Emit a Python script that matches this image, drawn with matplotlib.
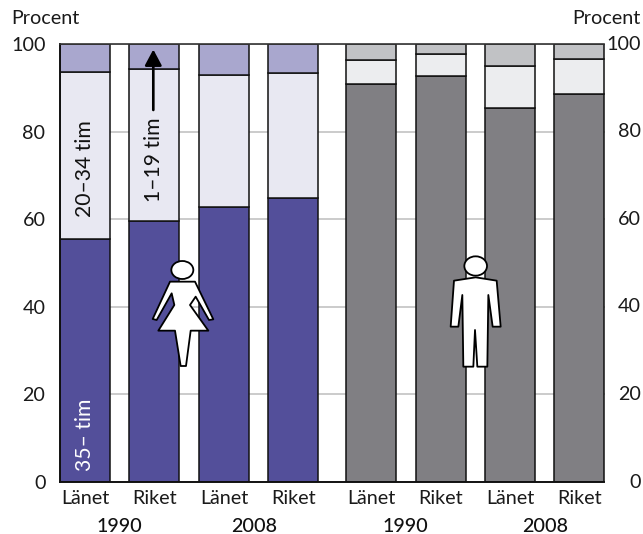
import matplotlib
matplotlib.use("Agg")
import matplotlib.pyplot as plt
from matplotlib.patches import Polygon, Ellipse, FancyArrowPatch
from matplotlib.transforms import Affine2D

plt.rcParams['font.family'] = ['Lato', 'DejaVu Sans']

# Data
places = ["Länet", "Riket", "Länet", "Riket", "Länet", "Riket", "Länet", "Riket"]
years = ["1990", "2008", "1990", "2008"]
full_time = [55.4, 59.6, 62.8, 64.8, 90.9, 92.6, 85.4, 88.6]      # 35- tim
mid_time = [38.3, 34.8, 30.2, 28.6, 5.4, 5.2, 9.6, 7.9]           # 20-34 tim
short_time = [6.3, 5.6, 7.0, 6.6, 3.7, 2.2, 5.0, 3.5]             # 1-19 tim
yticks = [0, 20, 40, 60, 80, 100]

# Layout
W, H = 643, 534
positions = [0, 1, 2, 3, 4.12, 5.12, 6.12, 7.12]
bar_w = 0.72
year_x = [0.5, 2.44, 4.62, 6.62]
dark = ["#534F9A"] * 4 + ["#807F83"] * 4
light = ["#E8E8F2"] * 4 + ["#ECEDEF"] * 4
mid = ["#A9A7CE"] * 4 + ["#C1C2C5"] * 4
FS = 14.2
FS_ROT = 15.2

fig = plt.figure(figsize=(W / 100, H / 100), dpi=100)
ax = fig.add_axes([60 / W, (H - 482) / H, 544.5 / W, 438 / H])
ax.set_xlim(-bar_w / 2, positions[-1] + bar_w / 2)
ax.set_ylim(0, 100)

ax.yaxis.grid(True, color="#BDBDBD", lw=1.1, zorder=0)
ax.set_axisbelow(True)
edge = dict(edgecolor="#111111", linewidth=1.1, zorder=2)
bottom2 = [a + b for a, b in zip(full_time, mid_time)]
ax.bar(positions, full_time, bar_w, color=dark, **edge)
ax.bar(positions, mid_time, bar_w, bottom=full_time, color=light, **edge)
ax.bar(positions, short_time, bar_w, bottom=bottom2, color=mid, **edge)

for s in ("left", "bottom"):
    ax.spines[s].set_linewidth(1.4)
    ax.spines[s].set_color("#111111")
ax.spines["top"].set_linewidth(1.2)
ax.spines["top"].set_color("#333333")
ax.spines["right"].set_visible(False)

ax.set_yticks(yticks)
ax.set_xticks(positions, places)
ax.tick_params(axis="both", length=0, labelsize=FS, colors="#1a1a1a")
ax.tick_params(axis="y", pad=10.5)
ax.tick_params(axis="x", pad=6)

ytrans = ax.get_yaxis_transform()
for v in yticks:
    ax.text(1 + 36.5 / 544.5, v, str(v), transform=ytrans, ha="right", va="center",
            fontsize=FS, color="#1a1a1a")

trans = ax.get_xaxis_transform()
for x, y in zip(year_x, years):
    ax.text(x, -45 / 438, y, transform=trans, ha="center", va="center",
            fontsize=FS, fontweight=500, color="#111111")

px = Affine2D().scale(1, -1).translate(0, H)  # reference pixel space, y down
fig.text(11, 19, "Procent", transform=px, ha="left", va="center", fontsize=FS, color="#1a1a1a")
fig.text(641, 19, "Procent", transform=px, ha="right", va="center", fontsize=FS, color="#1a1a1a")

ax.text(positions[0], 71.5, "20–34 tim", rotation=90, ha="center", va="center",
        fontsize=FS_ROT, color="#111111", zorder=4)
ax.text(positions[1], 73.5, "1–19 tim", rotation=90, ha="center", va="center",
        fontsize=FS_ROT, color="#111111", zorder=4)
ax.text(positions[0], 10.8, "35– tim", rotation=90, ha="center", va="center",
        fontsize=FS_ROT, color="white", zorder=4)
ax.add_patch(FancyArrowPatch((153.3, H - 110), (153.3, H - 49.5), transform=None,
                             arrowstyle="-|>,head_length=6,head_width=3.2", lw=1.9,
                             color="black", shrinkA=0, shrinkB=0, mutation_scale=1.6, zorder=5))


def icon(points, origin, head, radii):
    ox, oy = origin
    pts = [(ox + a / 3, oy + b / 3) for a, b in points]
    fig.add_artist(Polygon(pts, closed=True, transform=px, facecolor="white",
                           edgecolor="black", lw=1.3, joinstyle="round", zorder=6))
    fig.add_artist(Ellipse((ox + head[0] / 3, oy + head[1] / 3), radii[0] * 2 / 3, radii[1] * 2 / 3,
                           transform=px, facecolor="white", edgecolor="black", lw=1.3, zorder=7))


woman = [(120, 125), (195, 125), (250, 238), (237, 240), (197, 170), (180, 195), (235, 272), (182, 272),
         (168, 378), (152, 378), (135, 272), (85, 272), (133, 195), (125, 160), (80, 240), (68, 237)]
man = [(72, 122), (137, 112), (200, 122), (212, 260), (188, 260), (175, 165), (172, 380), (142, 380),
       (135, 270), (130, 380), (100, 380), (97, 165), (85, 260), (62, 260)]
icon(woman, (130, 240), (157, 90), (33, 27))
icon(man, (430, 240), (137, 78), (34, 29))

fig.savefig("out.png", dpi=100)
